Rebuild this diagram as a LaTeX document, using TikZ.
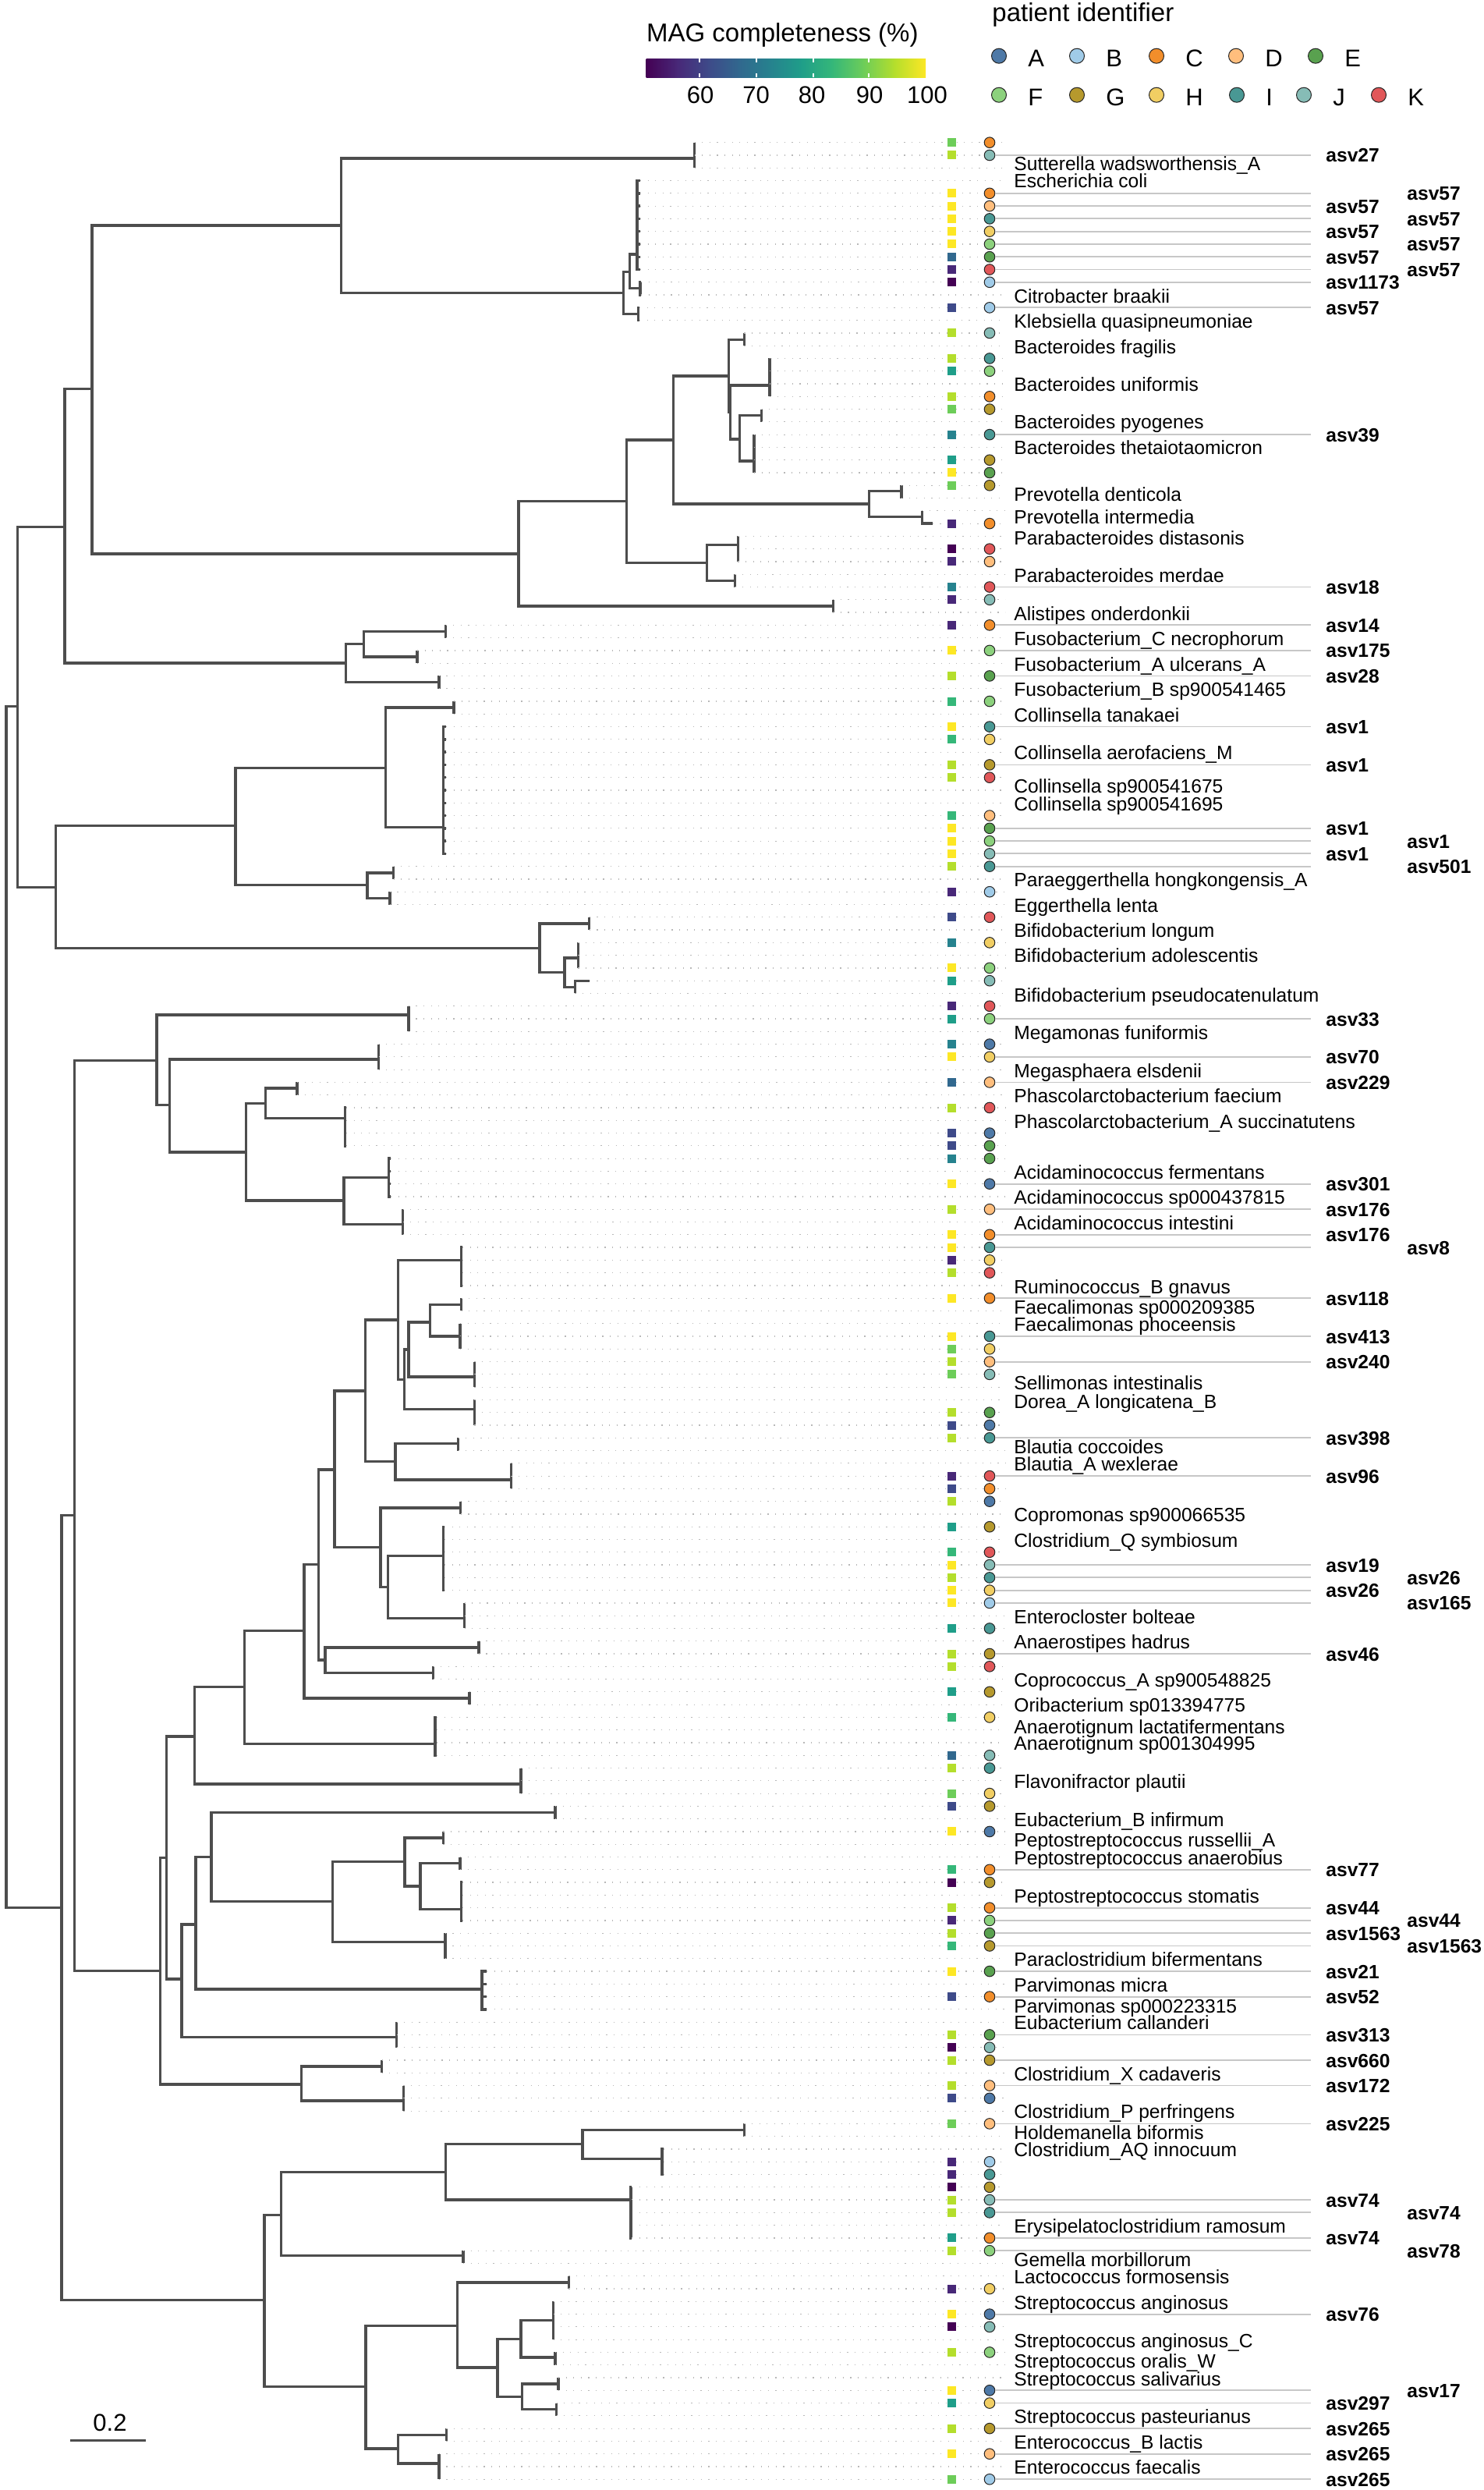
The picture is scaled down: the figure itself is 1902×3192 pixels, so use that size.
\documentclass[tikz,border=0pt]{standalone}
\usepackage{fontspec}
\setmainfont{Liberation Sans}
\definecolor{treegray}{HTML}{4D4D4D}
\definecolor{vir0}{HTML}{440154}
\definecolor{vir1}{HTML}{482878}
\definecolor{vir2}{HTML}{3E4A89}
\definecolor{vir3}{HTML}{31688E}
\definecolor{vir4}{HTML}{26828E}
\definecolor{vir5}{HTML}{1F9E89}
\definecolor{vir6}{HTML}{35B779}
\definecolor{vir7}{HTML}{6DCD59}
\definecolor{vir8}{HTML}{B4DE2C}
\definecolor{vir9}{HTML}{FDE725}
\definecolor{patA}{HTML}{4E79A7}
\definecolor{patB}{HTML}{A0CBE8}
\definecolor{patC}{HTML}{F28E2B}
\definecolor{patD}{HTML}{FFBE7D}
\definecolor{patE}{HTML}{59A14F}
\definecolor{patF}{HTML}{8CD17D}
\definecolor{patG}{HTML}{B6992D}
\definecolor{patH}{HTML}{F1CE63}
\definecolor{patI}{HTML}{499894}
\definecolor{patJ}{HTML}{86BCB6}
\definecolor{patK}{HTML}{E15759}
\tikzset{
  branch/.style={draw=treegray, line width=1.7pt},
  tipline/.style={draw=black!28, line width=0.6pt, dash pattern=on 0.6pt off 4.2pt},
  asvline/.style={draw=black!22, line width=0.9pt},
  magbox/.style={rectangle, inner sep=0pt, minimum width=5.5pt, minimum height=5.5pt},
  patdot/.style={circle, draw=black!85, line width=0.5pt, inner sep=0pt, minimum size=6.8pt},
  legdot/.style={patdot, minimum size=9.5pt},
  splab/.style={font=\fontsize{12.3}{14}\selectfont, inner sep=0pt, anchor=base west},
  asvlab/.style={font=\fontsize{12.3}{14}\selectfont\bfseries, inner sep=0pt, anchor=base west},
  legtitle/.style={font=\fontsize{16.5}{19}\selectfont, inner sep=0pt, anchor=base west},
  legtext/.style={font=\fontsize{15.5}{18}\selectfont, inner sep=0pt}
}
\begin{document}
\begin{tikzpicture}[x=0.5pt,y=-0.5pt]
\newcommand\clade[4]{
\coordinate (#1) at (#2,{182.7+16.28*#3});
\draw[branch] (#4) |- (#1);
}
\newcommand\leaves[3]{
\foreach \rw in {#3} {
  \coordinate (t\rw) at (#2,{182.7+16.28*\rw});
  \draw[branch] (#1) |- (t\rw);
  \draw[tipline] (t\rw) -- (1289,{182.7+16.28*\rw});
}
}
\fill[white] (0,0) rectangle (1902,3192);
\useasboundingbox (0,0) rectangle (1902,3192);
% tree
\coordinate (root) at (8,{182.7+16.28*91.7});
\clade{nA}{22.3}{44.4}{root}
\clade{nB}{79}{139}{root}
\clade{nA1}{82.9}{30.26}{nA}
\clade{nA2}{71.7}{58.63}{nA}
\clade{nA1a}{118}{19.38}{nA1}
\clade{nA1b}{443.2}{41}{nA1}
\clade{nA1a1}{437.7}{6.54}{nA1a}
\clade{nA1a2}{664.9}{32.39}{nA1a}
\clade{nT}{890.5}{1.25}{nA1a1} \leaves{nT}{890.5}{0,1,2}
\clade{nE}{799.6}{11.85}{nA1a1}
\clade{nE1}{807.6}{10.2}{nE}
\clade{nE2}{818.7}{13.5}{nE} \leaves{nE2}{820}{13,14}
\clade{nE1a}{817}{8.8}{nE1} \leaves{nE1a}{821}{3,...,10}
\clade{nE1b}{821}{11.46}{nE1} \leaves{nE1b}{822}{11,12}
\clade{nBa}{803.6}{28.25}{nA1a2}
\clade{nAl}{1068.2}{36.5}{nA1a2} \leaves{nAl}{1068.2}{36,37}
\clade{nB1}{863.4}{23.43}{nBa}
\clade{nB2}{906.4}{33.08}{nBa}
\clade{nBac}{934.3}{18.39}{nB1}
\clade{nPrv}{1114.5}{28.46}{nB1}
\clade{nBac1}{954.3}{15.53}{nBac} \leaves{nBac1}{954.3}{15,16}
\clade{nBac2}{936.7}{21.25}{nBac}
\clade{nBu}{987}{19.13}{nBac2} \leaves{nBu}{987}{17,...,20}
\clade{nBt}{948.7}{23.36}{nBac2}
\clade{nBt1}{976.6}{21.5}{nBt} \leaves{nBt1}{976.6}{21,22}
\clade{nBt2}{967}{25.09}{nBt} \leaves{nBt2}{967}{23,...,26}
\clade{nPrv1}{1156}{27.43}{nPrv} \leaves{nPrv1}{1156}{27,28}
\clade{nPrv2}{1182.2}{29.48}{nPrv} \leaves{nPrv2}{1182.2}{29} \leaves{nPrv2}{1195.8}{30}
\clade{nPb1}{946.3}{31.7}{nB2} \leaves{nPb1}{946.3}{31,32,33}
\clade{nPb2}{942.3}{34.5}{nB2} \leaves{nPb2}{942.3}{34,35}
% Fusobacterium
\clade{nF1}{466.4}{39.5}{nA1b}
\clade{nF2}{562.8}{42.5}{nA1b} \leaves{nF2}{562.8}{42,43}
\clade{nF1a}{571.6}{38.5}{nF1} \leaves{nF1a}{571.6}{38,39}
\clade{nF1b}{535}{40.5}{nF1} \leaves{nF1b}{535}{40,41}
% Collinsella, Eggerthella, Bifidobacterium
\clade{nC}{302.1}{53.8}{nA2}
\clade{nBf}{692}{63.43}{nA2}
\clade{nCol}{494.3}{49.26}{nC}
\clade{nEgg}{471.1}{58.45}{nC}
\clade{nCol1}{582}{44.5}{nCol} \leaves{nCol1}{582}{44,45}
\clade{nCol2}{568.4}{53.93}{nCol} \leaves{nCol2}{572}{46,...,56}
\clade{nEg1}{504.6}{57.5}{nEgg} \leaves{nEg1}{504.6}{57,58}
\clade{nEg2}{499.8}{59.5}{nEgg} \leaves{nEg2}{499.8}{59,60}
\clade{nBf1}{755.7}{61.5}{nBf} \leaves{nBf1}{755.7}{61,62}
\clade{nBf2}{723.9}{65.35}{nBf}
\clade{nBf2a}{741.4}{64.2}{nBf2} \leaves{nBf2a}{741.4}{63,64,65}
\clade{nBf2b}{737.4}{66.5}{nBf2} \leaves{nBf2b}{755.7}{66} \leaves{nBf2b}{737.4}{67}
% Firmicutes
\clade{nFi}{95.7}{108.1}{nB}
\clade{nBc}{338.8}{169.9}{nB}
\clade{nNg}{200.9}{72.27}{nFi}
\clade{nCl}{205.7}{143.95}{nFi}
\clade{nMg}{523.8}{68.7}{nNg} \leaves{nMg}{523.8}{68,69,70}
\clade{nNg2}{217.6}{75.8}{nNg}
\clade{nMs}{485.5}{72.2}{nNg2} \leaves{nMs}{485.5}{71,72,73}
\clade{nNg3}{315.7}{79.5}{nNg2}
\clade{nPh}{340.4}{75.65}{nNg3}
\clade{nAc}{440.8}{83.3}{nNg3}
\clade{nPh1}{381}{74.46}{nPh} \leaves{nPh1}{381}{74,75}
\clade{nPh2}{442.4}{76.84}{nPh} \leaves{nPh2}{444}{76,...,79}
\clade{nAc1}{498.2}{81.5}{nAc} \leaves{nAc1}{501}{80,...,83}
\clade{nAc2}{516.6}{85.2}{nAc} \leaves{nAc2}{516.6}{84,85,86}
\clade{nCl1}{213.6}{135.05}{nCl}
\clade{nCl2}{386.6}{152.9}{nCl}
\clade{nCx}{489.5}{151.5}{nCl2} \leaves{nCx}{489.5}{151,152}
\clade{nCp}{517.4}{154.2}{nCl2} \leaves{nCp}{517.4}{153,154,155}
\clade{nCl1a}{249.5}{125.5}{nCl1}
\clade{nCl1b}{232.8}{144.6}{nCl1}
\clade{nLa}{313.3}{121.6}{nCl1a}
\clade{nFl}{668}{129.25}{nCl1a} \leaves{nFl}{668}{128,129,130}
\clade{nLa1}{389.8}{117.2}{nLa}
\clade{nAt}{558}{126.1}{nLa} \leaves{nAt}{560}{124,...,127}
\clade{nLa1a}{408.2}{111.95}{nLa1}
\clade{nOr}{601.9}{122.5}{nLa1} \leaves{nOr}{601.9}{122,123}
\clade{nL2}{428.9}{104.5}{nLa1a}
\clade{nL3}{417}{119.5}{nLa1a}
\clade{nL3a}{613.8}{118.5}{nL3} \leaves{nL3a}{613.8}{118,119}
\clade{nL3b}{555.6}{120.5}{nL3} \leaves{nL3b}{555.6}{120,121}
\clade{nL2a}{468.7}{98.3}{nL2}
\clade{nL2b}{487.9}{110.6}{nL2}
\clade{nL2b1}{590.7}{107.5}{nL2b} \leaves{nL2b1}{590.7}{107,108}
\clade{nL2b2}{497.4}{113.75}{nL2b}
\clade{nCq}{568.4}{111.3}{nL2b2} \leaves{nCq}{570}{109,...,114}
\clade{nEc}{595.5}{116.2}{nL2b2} \leaves{nEc}{595.5}{115,116,117}
\clade{nRu}{510.2}{92.7}{nL2a}
\clade{nBl}{507}{103.87}{nL2a}
\clade{nBl1}{587.5}{102.45}{nBl} \leaves{nBl1}{587.5}{102,103}
\clade{nBl2}{655.3}{105.3}{nBl} \leaves{nBl2}{655.3}{104,105,106}
\clade{nRuA}{591.5}{88}{nRu} \leaves{nRuA}{593}{87,...,90}
\clade{nRuB}{518.2}{97.4}{nRu}
\clade{nRuB1}{523.8}{95.05}{nRuB}
\clade{nRuB2}{608.3}{99.73}{nRuB} \leaves{nRuB2}{608.3}{99,100,101}
\clade{nFae}{551.7}{92.9}{nRuB1}
\clade{nSe}{608.3}{97.2}{nRuB1} \leaves{nSe}{608.3}{96,97,98}
\clade{nFae1}{591.5}{91.5}{nFae} \leaves{nFae1}{591.5}{91,92}
\clade{nFae2}{590}{94}{nFae} \leaves{nFae2}{590}{93,94,95}
\clade{nCl1b1}{251.1}{140.3}{nCl1b}
\clade{nEu}{508.6}{149.2}{nCl1b} \leaves{nEu}{508.6}{148,149,150}
\clade{nPp}{271}{135}{nCl1b1}
\clade{nPv}{617.8}{145.4}{nCl1b1} \leaves{nPv}{624}{144,...,147}
\clade{nEb}{711.9}{131.5}{nPp} \leaves{nEb}{711.9}{131,132}
\clade{nPp2}{426.5}{138.5}{nPp}
\clade{nPp2a}{519}{135.36}{nPp2}
\clade{nPc}{570.8}{141.7}{nPp2} \leaves{nPc}{570.8}{141,142,143}
\clade{nPr}{568.4}{133.5}{nPp2a} \leaves{nPr}{568.4}{133,134}
\clade{nPp2a2}{538.9}{137.3}{nPp2a}
\clade{nPa}{590}{135.5}{nPp2a2} \leaves{nPa}{590}{135,136}
\clade{nPs}{591.5}{139.1}{nPp2a2} \leaves{nPs}{593}{137,...,140}
% Bacilli
\clade{nEr}{360.3}{163.2}{nBc}
\clade{nLc}{468.8}{176.7}{nBc}
\clade{nEr1}{571.6}{159.8}{nEr}
\clade{nGe}{594}{166.4}{nEr} \leaves{nGe}{594}{166,167}
\clade{nHo}{747}{157.6}{nEr1}
\clade{nEr2}{809}{162}{nEr1} \leaves{nEr2}{810}{161,...,165}
\clade{nHo1}{954.3}{156.5}{nHo} \leaves{nHo1}{954.3}{156,157}
\clade{nHo2}{849}{158.76}{nHo} \leaves{nHo2}{851}{158,159,160}
\clade{nSt}{586.7}{171.9}{nLc}
\clade{nEn}{510.2}{181.6}{nLc}
\clade{nLl}{729.4}{168.5}{nSt} \leaves{nLl}{729.4}{168,169}
\clade{nSt2}{637.8}{175.2}{nSt}
\clade{nSt3}{668}{172.95}{nSt2}
\clade{nSt4}{669.6}{177.5}{nSt2}
\clade{nSa}{709.5}{171.5}{nSt3} \leaves{nSa}{709.5}{170,...,173}
\clade{nSo}{711.9}{174.4}{nSt3} \leaves{nSo}{711.9}{174,175}
\clade{nSs}{715.9}{176.5}{nSt4} \leaves{nSs}{715.9}{176,177}
\clade{nSp}{713.5}{178.5}{nSt4} \leaves{nSp}{713.5}{178,179}
\clade{nEn1}{572.4}{180.5}{nEn} \leaves{nEn1}{572.4}{180,181}
\clade{nEn2}{562.8}{182.75}{nEn} \leaves{nEn2}{562.8}{182,183,184}
% MAG completeness and patient
\foreach \rw/\k/\p in {0/7/C, 1/8/J, 4/9/C, 5/9/D, 6/9/I, 7/9/H, 8/9/F, 9/3/E, 10/1/K, 11/0/B, 13/2/B, 15/8/J, 17/8/I, 18/5/F, 20/8/C, 21/7/G, 23/4/I, 25/5/G, 26/9/E, 27/7/G, 30/1/C, 32/0/K, 33/1/D, 35/4/K, 36/1/J, 38/1/C, 40/9/F, 42/8/E, 44/6/F, 46/9/I, 47/6/H, 49/8/G, 50/8/K, 53/6/D, 54/9/E, 55/9/F, 56/9/J, 57/8/I, 59/1/B, 61/2/K, 63/4/H, 65/9/F, 66/5/J, 68/1/K, 69/5/F, 71/4/A, 72/9/H, 74/3/D, 76/8/K, 78/2/A, 79/2/E, 80/4/E, 82/9/A, 84/8/D, 86/9/C, 87/9/I, 88/1/H, 89/8/K, 91/9/C, 94/9/I, 95/7/H, 96/8/D, 97/7/J, 100/8/E, 101/2/A, 102/8/I, 105/1/K, 106/2/C, 107/8/A, 109/5/G, 111/6/K, 112/9/J, 113/8/I, 114/9/H, 115/9/B, 117/5/I, 119/8/G, 120/8/K, 122/5/G, 124/6/H, 127/3/J, 128/8/I, 130/7/H, 131/2/G, 133/9/A, 136/6/C, 137/0/G, 139/8/C, 140/1/F, 141/8/E, 142/6/G, 144/9/E, 146/2/C, 149/8/E, 150/0/J, 151/8/G, 153/8/D, 154/2/A, 156/7/D, 159/1/B, 160/1/I, 161/0/G, 162/8/J, 163/8/I, 165/5/C, 166/8/F, 169/1/H, 171/9/A, 172/0/J, 174/8/F, 177/9/A, 178/5/H, 180/8/G, 182/9/D, 184/7/B} {
  \node[magbox, fill=vir\k] (s\rw) at (1220,{182.7+16.28*\rw}) {};
  \node[patdot, fill=pat\p] (c\rw) at (1269,{182.7+16.28*\rw}) {};
}
% ASV matches
\foreach \rw/\a/\x in {1/asv27/1700, 4/asv57/1804, 5/asv57/1700, 6/asv57/1804, 7/asv57/1700, 8/asv57/1804, 9/asv57/1700, 10/asv57/1804, 11/asv1173/1700, 13/asv57/1700, 23/asv39/1700, 35/asv18/1700, 38/asv14/1700, 40/asv175/1700, 42/asv28/1700, 46/asv1/1700, 49/asv1/1700, 54/asv1/1700, 55/asv1/1804, 56/asv1/1700, 57/asv501/1804, 69/asv33/1700, 72/asv70/1700, 74/asv229/1700, 82/asv301/1700, 84/asv176/1700, 86/asv176/1700, 87/asv8/1804, 91/asv118/1700, 94/asv413/1700, 96/asv240/1700, 102/asv398/1700, 105/asv96/1700, 112/asv19/1700, 113/asv26/1804, 114/asv26/1700, 115/asv165/1804, 119/asv46/1700, 136/asv77/1700, 139/asv44/1700, 140/asv44/1804, 141/asv1563/1700, 142/asv1563/1804, 144/asv21/1700, 146/asv52/1700, 149/asv313/1700, 151/asv660/1700, 153/asv172/1700, 156/asv225/1700, 162/asv74/1700, 163/asv74/1804, 165/asv74/1700, 166/asv78/1804, 171/asv76/1700, 177/asv17/1804, 178/asv297/1700, 180/asv265/1700, 182/asv265/1700, 184/asv265/1700} {
  \coordinate (e\rw) at (1681,{182.7+16.28*\rw});
  \draw[asvline] (c\rw.east) -- (e\rw);
  \node[asvlab] (a\rw) at (\x,{182.7+16.28*\rw+9}) {\a};
}
% reference genomes
\foreach \rw/\t [count=\i] in {1.67/Sutterella wadsworthensis\_A, 3/Escherichia coli, 12.08/Citrobacter braakii, 14.07/Klebsiella quasipneumoniae, 16.05/Bacteroides fragilis, 19.04/Bacteroides uniformis, 22/Bacteroides pyogenes, 24/Bacteroides thetaiotaomicron, 27.68/Prevotella denticola, 29.48/Prevotella intermedia, 31.1/Parabacteroides distasonis, 34.09/Parabacteroides merdae, 37.1/Alistipes onderdonkii, 39.08/Fusobacterium\_C necrophorum, 41.09/Fusobacterium\_A ulcerans\_A, 43.03/Fusobacterium\_B sp900541465, 45.06/Collinsella tanakaei, 48.05/Collinsella aerofaciens\_M, 50.68/Collinsella sp900541675, 52.05/Collinsella sp900541695, 58.02/Paraeggerthella hongkongensis\_A, 60.07/Eggerthella lenta, 62.04/Bifidobacterium longum, 64.02/Bifidobacterium adolescentis, 67.1/Bifidobacterium pseudocatenulatum, 70.06/Megamonas funiformis, 73.1/Megasphaera elsdenii, 75.04/Phascolarctobacterium faecium, 77.09/Phascolarctobacterium\_A succinatutens, 81.08/Acidaminococcus fermentans, 83.06/Acidaminococcus sp000437815, 85.03/Acidaminococcus intestini, 90.09/Ruminococcus\_B gnavus, 91.7/Faecalimonas sp000209385, 93.06/Faecalimonas phoceensis, 97.67/Sellimonas intestinalis, 99.1/Dorea\_A longicatena\_B, 102.7/Blautia coccoides, 104.05/Blautia\_A wexlerae, 108.05/Copromonas sp900066535, 110.09/Clostridium\_Q symbiosum, 116.09/Enterocloster bolteae, 118.04/Anaerostipes hadrus, 121.04/Coprococcus\_A sp900548825, 123.05/Oribacterium sp013394775, 124.73/Anaerotignum lactatifermentans, 126.06/Anaerotignum sp001304995, 129.03/Flavonifractor plautii, 132.06/Eubacterium\_B infirmum, 133.64/Peptostreptococcus russellii\_A, 135.07/Peptostreptococcus anaerobius, 138.08/Peptostreptococcus stomatis, 143.06/Paraclostridium bifermentans, 145.06/Parvimonas micra, 146.7/Parvimonas sp000223315, 148.03/Eubacterium callanderi, 152.06/Clostridium\_X cadaveris, 155.03/Clostridium\_P perfringens, 156.67/Holdemanella biformis, 158.05/Clostridium\_AQ innocuum, 164.06/Erysipelatoclostridium ramosum, 166.7/Gemella morbillorum, 168.03/Lactococcus formosensis, 170.1/Streptococcus anginosus, 173.1/Streptococcus anginosus\_C, 174.7/Streptococcus oralis\_W, 176.08/Streptococcus salivarius, 179.06/Streptococcus pasteurianus, 181.06/Enterococcus\_B lactis, 183.04/Enterococcus faecalis} {
  \node[splab] (sp\i) at (1300,{182.7+16.28*\rw+9}) {\t};
}
% legend: MAG completeness
\node[legtitle] (magtitle) at (828.7,53.3) {MAG completeness (\%)};
\foreach \k [evaluate=\k as \kn using int(\k+1)] in {0,...,8}
  \shade[left color=vir\k, right color=vir\kn] ({828.7+39.74*\k},75) rectangle ({829.5+39.74*(\k+1)},99.3);
\foreach \x in {896.6,969.6,1042.6,1114.2} {
  \draw[white, line width=1pt] (\x,75) -- (\x,80);
  \draw[white, line width=1pt] (\x,94.3) -- (\x,99.3);
}
\foreach \x/\v in {898/60, 969.6/70, 1041/80, 1115/90, 1189/100}
  \node[legtext, anchor=base] at (\x,132.7) {\v};
% legend: patient identifier
\node[legtitle] (pattitle) at (1272,27) {patient identifier};
\foreach \p/\x/\y in {A/1281/71.7, B/1381/71.7, C/1483/71.7, D/1585/71.7, E/1687/71.7, F/1281/121.7, G/1381/121.7, H/1483/121.7, I/1586/121.7, J/1672/121.7, K/1768/121.7} {
  \node[legdot, fill=pat\p] (leg\p) at (\x,\y) {};
  \node[legtext, anchor=base west] (legl\p) at ({\x+37},{\y+14}) {\p};
}
% scale bar
\coordinate (sbl) at (90,3128.7);
\coordinate (sbr) at (187.3,3128.7);
\draw[branch] (sbl) -- (sbr);
\node[legtext, anchor=base] (sblab) at (141,3116) {0.2};
\end{tikzpicture}
\end{document}
